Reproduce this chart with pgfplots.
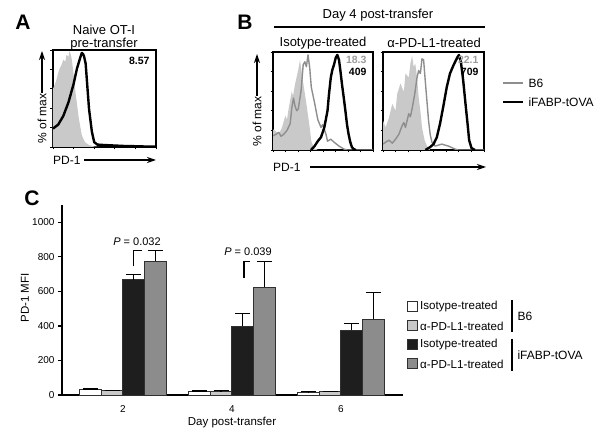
\documentclass[border=0pt]{standalone}
\usepackage{pgfplots}
\pgfplotsset{compat=1.18}
\usepackage{fontspec}
\setmainfont{Liberation Sans}
\usetikzlibrary{arrows.meta}

\definecolor{fillgray}{HTML}{C9C9C9}
\definecolor{linegray}{HTML}{8E8E8E}
\definecolor{numgray}{HTML}{9C9C9C}
\definecolor{barblack}{HTML}{1E1E1E}
\definecolor{bargray}{HTML}{8C8C8C}
\definecolor{barlight}{HTML}{C8C8C8}
\definecolor{edge}{HTML}{303030}

\pgfplotsset{
  histo/.style={scale only axis, anchor=north west,
    xmin=0, xmax=100, ymin=0, ymax=100,
    axis line style={line width=1.2pt},
    tick pos=left, tick align=outside, major tick length=2.5pt,
    tick style={line width=0.8pt, black},
    xtick={0,20,...,100}, ytick={0,20,...,100},
    xticklabels={}, yticklabels={}},
  blackhist/.style={black, line width=2.4pt, line join=round},
  grayhist/.style={linegray, line width=1.4pt, line join=round},
  fillhist/.style={fill=fillgray, draw=none},
  errb/.style={error bars/.cd, y dir=plus, y explicit,
    error bar style={line width=1.2pt, black},
    error mark options={rotate=90, mark size=7.5pt, line width=1.2pt, black}},
}
\tikzset{arr/.style={line width=1.2pt, -{Stealth[length=9pt,width=6pt]}}}
\newcommand{\fs}[1]{\fontsize{#1}{#1}\selectfont}

\begin{document}
\begin{tikzpicture}
\path[use as bounding box] (0,0) rectangle (600pt,-438pt);

% ---------------- Panel A ----------------
\node[font=\fs{21}\bfseries] at (23pt,-22pt) {A};
\node[font=\fs{13}, inner sep=0.5pt] at (104pt,-30pt) {Naive OT-I};
\node[font=\fs{13}, inner sep=0.5pt] at (104pt,-44pt) {pre-transfer};
\begin{axis}[histo, at={(53pt,-50pt)}, width=103pt, height=97pt]
\addplot[fillhist] coordinates {(0,0) (0,60) (3,68) (6,80) (8,84) (10,90) (12,88) (13,95) (15,93) (16,99) (17,96) (18,92) (20,75) (22,55) (25,30) (28,12) (31,5) (35,2) (40,0.5) (45,0)} \closedcycle;
\addplot[blackhist] coordinates {(0,19) (5,23) (10,32) (15,46) (20,65) (23.3,81) (26.7,93) (28,97) (29,96) (30,94) (31.7,86) (33.3,63) (35,39) (37.7,16) (40,5) (43,2.5) (50,2) (60,1.5) (70,1) (80,0.8) (90,0.5) (100,0.5)};
\end{axis}
\node[anchor=east, font=\fs{10.5}\bfseries] at (153pt,-61pt) {8.57};
\node[rotate=90, anchor=west, font=\fs{12}] at (42pt,-147pt) {\% of max};
\draw[arr] (42pt,-93pt) -- (42pt,-51pt);
\node[anchor=west, font=\fs{12}, inner sep=0pt] at (53pt,-160pt) {PD-1};
\draw[arr] (84pt,-160pt) -- (156pt,-160pt);

% ---------------- Panel B ----------------
\node[font=\fs{21}\bfseries] at (245pt,-22pt) {B};
\node[font=\fs{13}] at (378pt,-15pt) {Day 4 post-transfer};
\draw[line width=1.2pt] (274pt,-27pt) -- (485pt,-27pt);
\node[font=\fs{13}] at (323pt,-43pt) {Isotype-treated};
\node[font=\fs{13}] at (434pt,-43pt) {α-PD-L1-treated};

\begin{axis}[histo, at={(273pt,-52pt)}, width=100pt, height=98pt, xtick={0,12.5,...,100}]
\addplot[fillhist] coordinates {(0,0) (0,21) (3,19) (5.8,16) (9,23) (12.3,35) (14,31) (15.6,42) (18.8,60) (20,55) (22,67) (25.3,82) (27,92) (28.6,80) (30,70) (33.4,47) (36.7,23) (38.3,9) (41,2) (45,0)} \closedcycle;
\addplot[grayhist] coordinates {(0,14.5) (3,16) (5.8,18) (8,14) (10.7,16) (14,20) (17.2,27) (18.8,43) (20.5,53) (22,45) (23.7,40) (25.3,42) (28,60) (30.2,87) (31.8,90) (33.4,85) (35,97) (36.7,84) (38.3,64) (41.6,48) (44.8,31) (48,23) (49.7,26) (53,16) (54.5,9) (57.8,11) (61,8) (66,4) (70.8,1) (74,0) (100,0)};
\addplot[blackhist] coordinates {(38,0) (41.6,4) (44.8,9) (48,13) (51.3,23) (54.5,40) (56,57) (57.8,74) (59.4,82) (61,87) (62.7,94) (64.3,97) (66,92) (67.5,80) (69,67) (70.8,53) (72.4,40) (74,26) (75.6,16) (77.3,8) (78.9,3) (80.5,1) (83,0)};
\end{axis}
\node[anchor=east, font=\fs{10.5}\bfseries, text=numgray] at (370pt,-60pt) {18.3};
\node[anchor=east, font=\fs{10.5}\bfseries] at (370pt,-72pt) {409};

\begin{axis}[histo, at={(383pt,-52pt)}, width=101pt, height=98pt, xtick={0,12.5,...,100}]
\addplot[fillhist] coordinates {(0,0) (0,30) (2.6,23) (5.9,33) (9.2,47) (12.4,40) (14,57) (17.3,68) (20.6,59) (22.2,78) (25.5,74) (27.1,88) (28.8,96) (30.4,85) (32,88) (33.7,74) (35.3,54) (37,40) (38.6,23) (41.2,10) (43.5,4) (46.7,0)} \closedcycle;
\addplot[grayhist] coordinates {(0,6) (2.6,8) (5.9,10) (9.2,7) (12.4,11) (15.7,16) (19,25) (20.6,28) (22.2,23) (25.5,37) (27.1,34) (28.8,42) (31.4,57) (33.7,74) (35.3,81) (37,78) (38.6,93) (40.2,92) (41.8,71) (43.5,50) (45.1,30) (46.7,16) (48.4,8) (51.6,4) (58.2,6) (64.7,4) (71.2,1) (74.5,0) (100,0)};
\addplot[blackhist] coordinates {(42,0) (46.7,3) (50,6) (53.3,13) (56.5,27) (59.8,45) (63.1,64) (66.3,78) (69.6,86) (71.9,91) (73.9,95) (75.2,97) (77.1,90) (79.4,71) (81.7,47) (83.7,27) (85.3,10) (87.6,2) (91,0)};
\end{axis}
\node[anchor=east, font=\fs{10.5}\bfseries, text=numgray] at (482pt,-60pt) {22.1};
\node[anchor=east, font=\fs{10.5}\bfseries] at (482pt,-72pt) {709};

\node[rotate=90, anchor=west, font=\fs{12}] at (257pt,-150pt) {\% of max};
\draw[arr] (257pt,-96pt) -- (257pt,-54pt);
\node[anchor=west, font=\fs{12}, inner sep=0pt] at (273pt,-167pt) {PD-1};
\draw[arr] (310pt,-167pt) -- (486pt,-167pt);

\draw[linegray, line width=1.4pt] (503pt,-83pt) -- (523pt,-83pt);
\node[anchor=west, font=\fs{12}] at (525pt,-83pt) {B6};
\draw[black, line width=2.4pt] (503pt,-102pt) -- (523pt,-102pt);
\node[anchor=west, font=\fs{12}] at (525pt,-102pt) {iFABP-tOVA};

% ---------------- Panel C ----------------
\node[font=\fs{21}\bfseries] at (32pt,-198pt) {C};
\begin{axis}[at={(62pt,-395pt)}, anchor=south west, scale only axis,
  width=341pt, height=190pt,
  xmin=0.881, xmax=7.138, ymin=0, ymax=1100,
  axis x line=bottom, axis y line=left,
  axis line style={-, line width=1.3pt},
  ytick={0,200,...,1000}, xtick={2,4,6},
  tick align=outside, major tick length=4pt,
  ytick style={line width=1.2pt, black}, xtick style={draw=none},
  ticklabel style={font=\fs{10}},
  /pgf/number format/assume math mode=true,
  /pgf/number format/1000 sep={},
  xticklabel style={yshift=-3pt},
  clip=false]
\addplot[ybar, bar width=0.4, bar shift=0pt, fill=white, draw=edge, line width=1pt, errb] coordinates {(1.4,30) +- (0,5) (3.4,20) +- (0,3) (5.4,16) +- (0,3)};
\addplot[ybar, bar width=0.4, bar shift=0pt, fill=barlight, draw=edge, line width=1pt, errb] coordinates {(1.8,24) +- (0,4) (3.8,22) +- (0,3) (5.8,18) +- (0,3)};
\addplot[ybar, bar width=0.4, bar shift=0pt, fill=barblack, draw=edge, line width=1pt, errb] coordinates {(2.2,666) +- (0,32) (4.2,397) +- (0,74) (6.2,374) +- (0,42)};
\addplot[ybar, bar width=0.4, bar shift=0pt, fill=bargray, draw=edge, line width=1pt, errb] coordinates {(2.6,775) +- (0,62) (4.6,624) +- (0,151) (6.6,440) +- (0,154)};
\addplot[sharp plot, black, line width=1.2pt, mark=none] coordinates {(2.2,745) (2.2,838) (2.35,838)};
\addplot[sharp plot, black, line width=1.2pt, mark=none] coordinates {(4.22,680) (4.22,775) (4.33,775)};
\end{axis}
\node[font=\fs{11}] at (137pt,-242pt) {\textit{P} = 0.032};
\node[font=\fs{11}] at (248pt,-252pt) {\textit{P} = 0.039};
\node[rotate=90, font=\fs{11.5}] at (25pt,-298pt) {PD-1 MFI};
\node[font=\fs{11.5}] at (232pt,-423pt) {Day post-transfer};

% legend C
\draw[edge, line width=1pt, fill=white] (407pt,-302pt) rectangle (417pt,-312pt);
\draw[edge, line width=1pt, fill=barlight] (407pt,-321pt) rectangle (417pt,-331pt);
\draw[edge, line width=1pt, fill=barblack] (407pt,-340pt) rectangle (417pt,-350pt);
\draw[edge, line width=1pt, fill=bargray] (407pt,-359pt) rectangle (417pt,-369pt);
\node[anchor=west, font=\fs{11.6}, inner sep=1pt] at (419pt,-307pt) {Isotype-treated};
\node[anchor=west, font=\fs{11.6}, inner sep=1pt] at (419pt,-326pt) {α-PD-L1-treated};
\node[anchor=west, font=\fs{11.6}, inner sep=1pt] at (419pt,-345pt) {Isotype-treated};
\node[anchor=west, font=\fs{11.6}, inner sep=1pt] at (419pt,-364pt) {α-PD-L1-treated};
\draw[line width=1.4pt] (512pt,-300pt) -- (512pt,-332pt);
\draw[line width=1.4pt] (512pt,-339pt) -- (512pt,-371pt);
\node[anchor=west, font=\fs{12}] at (514pt,-316pt) {B6};
\node[anchor=west, font=\fs{12}] at (514pt,-355pt) {iFABP-tOVA};
\end{tikzpicture}
\end{document}
